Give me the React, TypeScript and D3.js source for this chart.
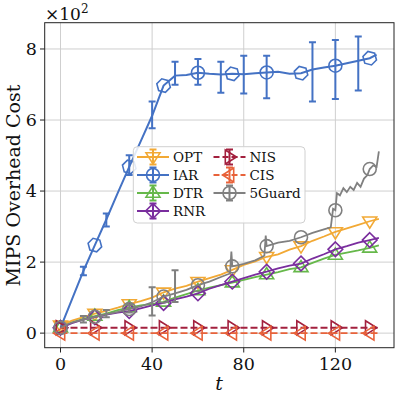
import React from "react";
import * as d3 from "d3";

const xTicks = [0, 40, 80, 120];
const yTicks = [0, 2, 4, 6, 8];

const iarT = [0,5,10,15,20,25,30,35,40,45,50,55,60,65,70,75,80,85,90,95,100,105,110,115,120,125,130,135,138];
const iarV = [0.15,0.95,1.75,2.48,3.2,3.95,4.68,5.4,6.12,6.97,7.25,7.27,7.33,7.3,7.28,7.3,7.29,7.32,7.34,7.36,7.3,7.32,7.42,7.48,7.53,7.6,7.67,7.74,7.84];
const iarHexT = [15,30,45,75,105,135];
const iarCircT = [0,60,90,120];
const iarErrT = [10,20,30,40,50,60,70,80,90,110,120,130];
const iarErrLo = [1.63,3.0,4.45,5.77,6.99,6.99,6.77,6.75,6.61,6.52,6.59,6.83];
const iarErrHi = [1.87,3.37,5.01,6.52,7.64,7.72,7.64,7.81,7.81,8.19,8.25,8.35];

const lineT = [0,5,10,15,20,25,30,35,40,45,50,55,60,65,70,75,80,85,90,95,100,105,110,115,120,125,130,135,139];
const optV = [0.22,0.35,0.45,0.55,0.63,0.72,0.82,0.9,1.0,1.15,1.25,1.33,1.45,1.55,1.65,1.78,1.92,2.02,2.15,2.22,2.35,2.45,2.6,2.72,2.85,2.95,3.05,3.15,3.22];
const dtrV = [0.15,0.3,0.4,0.48,0.55,0.65,0.72,0.78,0.82,0.88,1.0,1.1,1.2,1.28,1.35,1.42,1.5,1.58,1.65,1.72,1.8,1.85,1.98,2.1,2.2,2.27,2.33,2.4,2.47];
const rnrV = [0.15,0.28,0.38,0.45,0.52,0.58,0.62,0.7,0.78,0.85,0.95,1.03,1.12,1.25,1.35,1.45,1.55,1.65,1.73,1.82,1.9,1.96,2.1,2.22,2.36,2.45,2.55,2.62,2.68];
const markT = [0,15,30,45,60,75,90,105,120,135];

const flatT = [0,15,30,45,60,75,90,105,120,135,139];
const nisV = [0.15,0.15,0.15,0.15,0.15,0.15,0.15,0.15,0.15,0.15,0.15];
const cisV = [0.0,0.0,0.0,0.0,0.0,0.0,0.0,0.0,0.0,0.0,0.0];

const gT = [0,3,6,10,15,20,25,30,35,40,45,50,55,60,65,70,74,74.6,75,80,85,89,89.6,90,95,100,105,110,115,118,119,120,120.7,122,123.5,125,126.5,128,129.5,131,132.5,134,135,136.5,138,139];
const gV = [0.15,0.25,0.32,0.38,0.46,0.53,0.6,0.68,0.75,0.87,1.03,1.12,1.22,1.35,1.45,1.58,1.68,2.3,1.88,1.95,2.05,2.18,2.75,2.45,2.55,2.6,2.7,2.82,2.92,2.98,3.5,3.46,3.94,3.88,4.08,3.97,4.12,4.03,4.23,4.12,4.35,4.45,4.62,4.72,4.68,5.12];
const gErrT = [10,20,30,40,50];
const gErrLo = [0.3,0.45,0.58,0.5,0.88];
const gErrHi = [0.48,0.65,0.8,1.29,1.77];

const names = ["OPT","IAR","DTR","RNR","NIS","CIS","5Guard"];
const colors = ["#F2A935","#4472C4","#66B84A","#7A2E9E","#A3203E","#E8623A","#808080"];

const W = 399, H = 399;
const x = d3.scaleLinear().domain([-6.9, 145.6]).range([44.7, 394]);
const y = d3.scaleLinear().domain([-0.41, 8.74]).range([347.7, 22.7]);

type P = [number, number];
const zip = (t: number[], v: number[]): P[] => t.map((d, i) => [d, v[i]]);
const line = d3.line<P>().x(d => x(d[0])).y(d => y(d[1]));
const valAt = (t: number[], v: number[], tt: number) => v[t.indexOf(tt)];

function Marker({ kind, cx, cy, color, r = 7 }: { kind: string; cx: number; cy: number; color: string; r?: number }) {
  const sw = 1.6;
  if (kind === "circle") return <circle cx={cx} cy={cy} r={r - 0.5} fill="none" stroke={color} strokeWidth={sw} />;
  let pts: P[] = [];
  if (kind === "hex") pts = d3.range(6).map(i => [cx + r * Math.cos((i * 60 + 15) * Math.PI / 180), cy + r * Math.sin((i * 60 + 15) * Math.PI / 180)] as P);
  if (kind === "down") pts = [[cx - r, cy - r * 0.6], [cx + r, cy - r * 0.6], [cx, cy + r]];
  if (kind === "up") pts = [[cx - r, cy + r * 0.6], [cx + r, cy + r * 0.6], [cx, cy - r]];
  if (kind === "right") pts = [[cx - r * 0.6, cy - r], [cx - r * 0.6, cy + r], [cx + r, cy]];
  if (kind === "left") pts = [[cx + r * 0.6, cy - r], [cx + r * 0.6, cy + r], [cx - r, cy]];
  if (kind === "diamond") pts = [[cx, cy - r * 1.05], [cx + r * 1.05, cy], [cx, cy + r * 1.05], [cx - r * 1.05, cy]];
  return <polygon points={pts.map(p => p.join(",")).join(" ")} fill="none" stroke={color} strokeWidth={sw} />;
}

function ErrBar({ t, lo, hi, color }: { t: number; lo: number; hi: number; color: string }) {
  const cx = x(t);
  return (
    <g stroke={color} strokeWidth={2}>
      <line x1={cx} x2={cx} y1={y(lo)} y2={y(hi)} />
      <line x1={cx - 3.5} x2={cx + 3.5} y1={y(lo)} y2={y(lo)} />
      <line x1={cx - 3.5} x2={cx + 3.5} y1={y(hi)} y2={y(hi)} />
    </g>
  );
}

const legendKinds = ["down","circle","up","diamond","right","left","circle"];
const legendDash = ["", "", "", "", "6,3", "6,3", ""];

export default function App() {
  const font = "'DejaVu Serif', 'Liberation Serif', serif";
  return (
    <svg width={W} height={H} style={{ position: "absolute", left: 0, top: 0, background: "#fff", fontFamily: font }}>
      <rect x={0} y={0} width={W} height={H} fill="#fff" />
      {/* grid */}
      <g stroke="#cfcfcf" strokeWidth={1}>
        {xTicks.map(t => <line key={"gx" + t} x1={x(t)} x2={x(t)} y1={22.7} y2={347.7} />)}
        {yTicks.map(t => <line key={"gy" + t} x1={44.7} x2={394} y1={y(t)} y2={y(t)} />)}
      </g>
      <defs>
        <clipPath id="clip"><rect x={44.7} y={22.7} width={394 - 44.7} height={325} /></clipPath>
      </defs>
      <g clipPath="url(#clip)">
        {/* OPT */}
        <path d={line(zip(lineT, optV)) || ""} fill="none" stroke={colors[0]} strokeWidth={1.8} />
        {markT.map(t => <Marker key={"o" + t} kind="down" cx={x(t)} cy={y(valAt(lineT, optV, t))} color={colors[0]} />)}
        {/* IAR */}
        {iarErrT.map((t, i) => <ErrBar key={"ie" + t} t={t} lo={iarErrLo[i]} hi={iarErrHi[i]} color={colors[1]} />)}
        <path d={line(zip(iarT, iarV)) || ""} fill="none" stroke={colors[1]} strokeWidth={2} />
        {iarHexT.map(t => <Marker key={"ih" + t} kind="hex" cx={x(t)} cy={y(valAt(iarT, iarV, t))} color={colors[1]} />)}
        {iarCircT.map(t => <Marker key={"ic" + t} kind="circle" cx={x(t)} cy={y(valAt(iarT, iarV, t))} color={colors[1]} />)}
        {/* DTR */}
        <path d={line(zip(lineT, dtrV)) || ""} fill="none" stroke={colors[2]} strokeWidth={1.8} />
        {markT.map(t => <Marker key={"d" + t} kind="up" cx={x(t)} cy={y(valAt(lineT, dtrV, t))} color={colors[2]} />)}
        {/* RNR */}
        <path d={line(zip(lineT, rnrV)) || ""} fill="none" stroke={colors[3]} strokeWidth={1.8} />
        {markT.map(t => <Marker key={"r" + t} kind="diamond" cx={x(t)} cy={y(valAt(lineT, rnrV, t))} color={colors[3]} />)}
        {/* NIS */}
        <path d={line(zip(flatT, nisV)) || ""} fill="none" stroke={colors[4]} strokeWidth={2} strokeDasharray="7,3" />
        {markT.map(t => <Marker key={"n" + t} kind="right" cx={x(t)} cy={y(valAt(flatT, nisV, t))} color={colors[4]} />)}
        {/* CIS */}
        <path d={line(zip(flatT, cisV)) || ""} fill="none" stroke={colors[5]} strokeWidth={1.8} strokeDasharray="7,3" />
        {markT.map(t => <Marker key={"c" + t} kind="left" cx={x(t)} cy={y(valAt(flatT, cisV, t))} color={colors[5]} />)}
        {/* 5Guard */}
        {gErrT.map((t, i) => <ErrBar key={"ge" + t} t={t} lo={gErrLo[i]} hi={gErrHi[i]} color={colors[6]} />)}
        <path d={line(zip(gT, gV)) || ""} fill="none" stroke={colors[6]} strokeWidth={1.8} />
        {markT.map(t => <Marker key={"g" + t} kind="circle" cx={x(t)} cy={y(valAt(gT, gV, t))} color={colors[6]} />)}
      </g>
      {/* spines */}
      <rect x={44.7} y={22.7} width={394 - 44.7} height={325} fill="none" stroke="#222" strokeWidth={1} />
      {/* ticks */}
      <g stroke="#222" strokeWidth={1}>
        {xTicks.map(t => <line key={"tx" + t} x1={x(t)} x2={x(t)} y1={347.7} y2={352.5} />)}
        {yTicks.map(t => <line key={"ty" + t} x1={40} x2={44.7} y1={y(t)} y2={y(t)} />)}
      </g>
      <g fontSize={17.5} fill="#111">
        {xTicks.map(t => <text key={"lx" + t} x={x(t)} y={369.5} textAnchor="middle">{t}</text>)}
        {yTicks.map(t => <text key={"ly" + t} x={37} y={y(t) + 6.3} textAnchor="end">{t}</text>)}
      </g>
      <text x={45} y={19.5} fontSize={17} fill="#111">×10<tspan dy={-6.5} fontSize={12}>2</tspan></text>
      <text transform={`translate(20,${185.5}) rotate(-90)`} textAnchor="middle" fontSize={19} fill="#111">MIPS Overhead Cost</text>
      <text x={219} y={390} textAnchor="middle" fontSize={19} fontStyle="italic" fill="#111">t</text>
      {/* legend */}
      <rect x={133.3} y={146.7} width={171.7} height={76.3} rx={4} fill="#fff" fillOpacity={0.85} stroke="#d0d0d0" strokeWidth={1} />
      {names.map((n, i) => {
        const col = i < 4 ? 0 : 1;
        const row = i < 4 ? i : i - 4;
        const x0 = col === 0 ? 137 : 213.5;
        const cy = 157 + row * 18;
        const mx = x0 + 16;
        return (
          <g key={n}>
            <line x1={x0} x2={x0 + 32} y1={cy} y2={cy} stroke={colors[i]} strokeWidth={2} strokeDasharray={legendDash[i]} />
            <g stroke={colors[i]} strokeWidth={2}>
              <line x1={mx} x2={mx} y1={cy - 7.5} y2={cy + 7.5} />
              <line x1={mx - 3.5} x2={mx + 3.5} y1={cy - 7.5} y2={cy - 7.5} />
              <line x1={mx - 3.5} x2={mx + 3.5} y1={cy + 7.5} y2={cy + 7.5} />
            </g>
            <Marker kind={legendKinds[i]} cx={mx} cy={cy} color={colors[i]} />
            <text x={x0 + 36} y={cy + 5} fontSize={13.5} fill="#111">{n}</text>
          </g>
        );
      })}
    </svg>
  );
}
